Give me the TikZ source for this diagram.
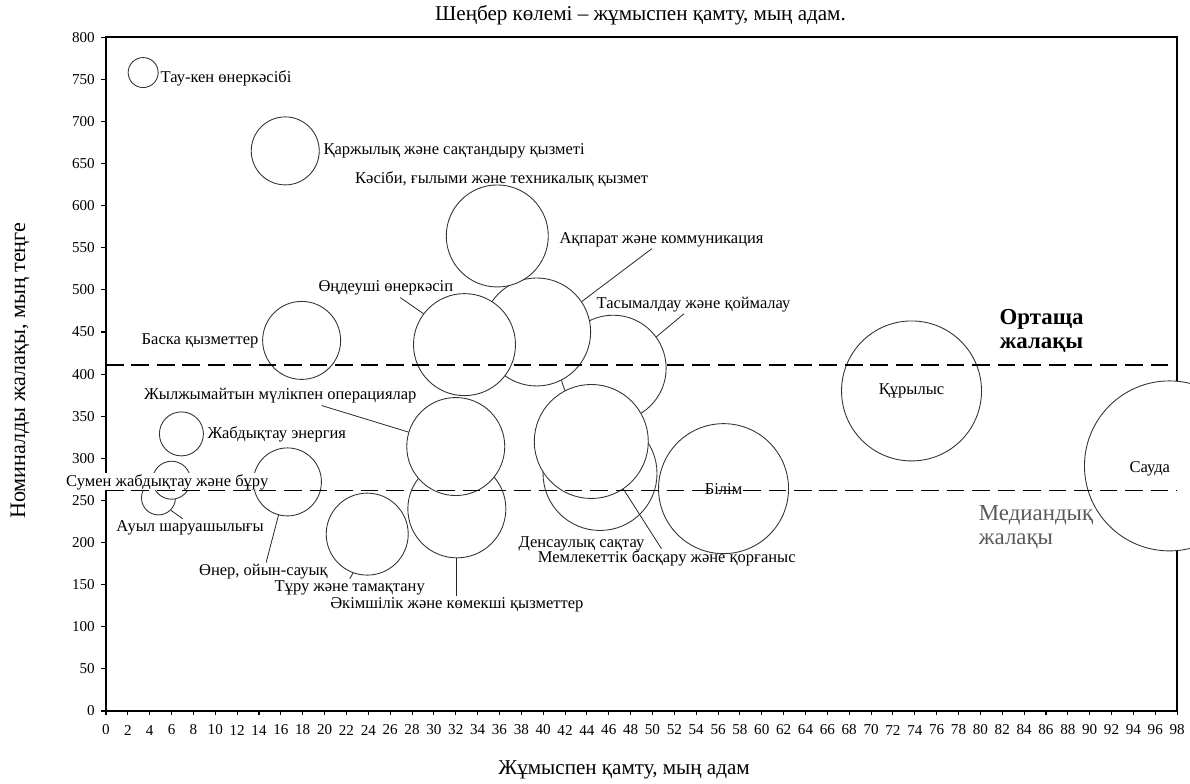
\documentclass[tikz,border=0pt]{standalone}
\usepackage{fontspec}
\setmainfont{Liberation Serif}
\usetikzlibrary{positioning}
\newcommand{\catfont}{\fontsize{9.4}{10}\selectfont}
\newcommand{\tickfont}{\fontsize{8.6}{9}\selectfont}
\newcommand{\headfont}{\fontsize{12}{13}\selectfont}
\newcommand{\ytitlefont}{\fontsize{12.6}{13}\selectfont}
\newcommand{\avgfont}{\fontsize{13}{13.6}\selectfont}

\begin{document}
\begin{tikzpicture}[x=0.2186cm, y=0.01685cm,
    bubble/.style={circle, draw=black!80, fill=white, line width=0.5pt, inner sep=0pt, font=\catfont},
    lbl/.style={font=\catfont, inner sep=1pt},
    leader/.style={draw=black!85, line width=0.45pt},
    avgline/.style={line width=0.8pt, dash pattern=on 10pt off 4.5pt}]
      \useasboundingbox (-2.12cm,-1.44cm) rectangle (21.68cm,14.22cm);

      \draw[line width=0.9pt] (0,0) rectangle (98,800);
      \foreach \x in {0,2,...,98} {
        \draw[line width=0.6pt] (\x,0) -- (\x,-5);
        \node[font=\tickfont, inner sep=0pt] at (\x,-22.6) {\x};
      }
      \foreach \y in {0,50,...,800} {
        \draw[line width=0.6pt] (0,\y) -- (-0.5,\y);
        \node[font=\tickfont, inner sep=0pt, anchor=east] at (-1.0,\y) {\y};
      }

      \node[font=\headfont] (title) at (48.9,826) {Шеңбер көлемі – жұмыспен қамту, мың адам.};
      \node[font=\headfont] (xtitle) at (47.4,-70) {Жұмыспен қамту, мың адам};
      \node[font=\ytitlefont, rotate=90] (ytitle) at (-7.87,404) {Номиналды жалақы, мың теңге};

      \node[bubble, minimum size=0.60cm] (tauken) at (3.4,758) {};
      \node[bubble, minimum size=1.36cm] (karzhy) at (16.4,665) {};
      \node[bubble, minimum size=2.12cm] (tasymal) at (46.4,407) {};
      \node[bubble, minimum size=2.16cm] (akparat) at (39.4,450) {};
      \node[bubble, minimum size=2.04cm] (kasibi) at (35.8,564) {};
      \node[bubble, minimum size=2.04cm] (ondeushi) at (32.8,435) {};
      \node[bubble, minimum size=2.28cm] (densaulyk) at (45.2,282) {};
      \node[bubble, minimum size=2.28cm] (memleket) at (44.4,320) {};
      \node[bubble, minimum size=2.60cm] (bilim) at (56.5,264) {Білім};
      \node[bubble, minimum size=1.96cm] (akimshil) at (32.1,240) {};
      \node[bubble, minimum size=1.96cm] (zhylzhy) at (32.0,314) {};
      \node[bubble, minimum size=1.56cm] (baska) at (17.9,440) {};
      \node[bubble, minimum size=0.88cm] (zhabdyk) at (6.9,329) {};
      \node[bubble, minimum size=0.68cm] (auyl) at (4.8,253) {};
      \node[bubble, minimum size=0.76cm] (sumen) at (6.0,274) {};
      \node[bubble, minimum size=1.36cm] (oner) at (16.6,272) {};
      \node[bubble, minimum size=1.64cm] (turu) at (23.9,210) {};
      \node[bubble, minimum size=2.80cm] (kurylys) at (73.7,380) {Құрылыс};
      \node[bubble, minimum size=3.40cm] (sauda) at (97.3,291) {};

      \node[lbl, anchor=west, fill=white, inner sep=0.5pt] (sumen-l) at (-3.75,272) {Сумен жабдықтау және бұру};

      \draw[avgline] (0,410.6) -- (98,410.6);
      \draw[avgline] (0,261.7) -- (98,261.7);

      \node[lbl, anchor=west] (tauken-l) at (4.8,751) {Тау-кен өнеркәсібі};
      \node[lbl, right=1pt of karzhy] (karzhy-l) {Қаржылық және сақтандыру қызметі};
      \node[lbl] (kasibi-l) at (36.2,632) {Кәсіби, ғылыми және техникалық қызмет};
      \node[lbl, anchor=west] (akparat-l) at (41.3,560) {Ақпарат және коммуникация};
      \node[lbl, anchor=west] (tasymal-l) at (44.7,483) {Тасымалдау және қоймалау};
      \node[lbl] (ondeushi-l) at (25.6,502) {Өңдеуші өнеркәсіп};
      \node[lbl, left=1pt of baska] (baska-l) {Баска қызметтер};
      \node[lbl, anchor=west] (zhylzhy-l) at (3.3,374) {Жылжымайтын мүлікпен операциялар};
      \node[lbl, right=1pt of zhabdyk] (zhabdyk-l) {Жабдықтау энергия};
      \node[lbl] (auyl-l) at (7.7,217) {Ауыл шаруашылығы};
      \node[lbl] (oner-l) at (14.4,165) {Өнер, ойын-сауық};
      \node[lbl] (turu-l) at (22.3,146) {Тұру және тамақтану};
      \node[lbl] (akimshil-l) at (32.1,126) {Әкімшілік және көмекші қызметтер};
      \node[lbl] (densaulyk-l) at (43.5,199) {Денсаулық сақтау};
      \node[lbl] (memleket-l) at (51.3,181) {Мемлекеттік басқару және қорғаныс};
      \node[lbl] (sauda-l) at (95.5,288) {Сауда};

      \node[font=\avgfont\bfseries, align=center] (ortasha) at (85.6,451) {Ортаща\\жалақы};
      \node[font=\avgfont, align=left, anchor=west, text=black!65] (median) at (79.3,218.5) {Медиандық\\жалақы};

      \draw[leader] (node cs:name=akparat-l, angle=-136) -- (node cs:name=akparat, angle=34);
      \draw[leader] (node cs:name=tasymal-l, angle=-135) -- (node cs:name=tasymal, angle=36);
      \draw[leader] (node cs:name=ondeushi-l, angle=-33) -- (node cs:name=ondeushi, angle=143);
      \draw[leader] (node cs:name=zhylzhy-l, angle=-13) -- (node cs:name=zhylzhy, angle=163);
      \draw[leader] (node cs:name=auyl, angle=-45) -- (node cs:name=auyl-l, angle=128);
      \draw[leader] (node cs:name=oner-l, angle=74) -- (node cs:name=oner, angle=-105);
      \draw[leader] (node cs:name=turu, angle=-110) -- (node cs:name=turu-l, anchor=north);
      \draw[leader] (node cs:name=akimshil, anchor=south) -- (node cs:name=akimshil-l, anchor=north);
      \draw[leader] (node cs:name=memleket, angle=-56) -- (node cs:name=memleket-l, angle=118);
    \end{tikzpicture}
\end{document}
